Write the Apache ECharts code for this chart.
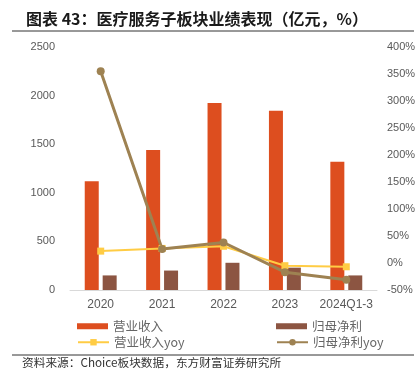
<!DOCTYPE html>
<html><head><meta charset="utf-8">
<script src="https://cdn.jsdelivr.net/npm/echarts@6/dist/echarts.min.js"></script>
<style>html,body{margin:0;padding:0;background:#fff}#c{width:420px;height:391px}</style>
</head><body><div id="c"></div>
<script>
var categories = ['2020', '2021', '2022', '2023', '2024Q1-3'];
var revenue = [1120, 1440, 1925, 1845, 1320];
var netProfit = [150, 200, 280, 230, 150];
var revenueYoy = [22, 27, 31, -5, -7];
var profitYoy = [355, 26, 38, -17, -31];
var leftTicks = [0, 2500, 500];
var rightTicks = [-50, 400, 50];

var chart = echarts.init(document.getElementById('c'));
var lbl = {color: '#595959', fontSize: 11, fontFamily: 'Liberation Sans, Arial, sans-serif'};
function lg(name, left, top, h, icon) {
  var o = {left: left, top: top, itemWidth: 31, itemHeight: h, itemGap: 0,
    textStyle: {color: '#666', fontSize: 12.5, fontFamily: 'Noto Sans CJK SC'},
    data: [name]};
  if (icon) o.icon = icon;
  return o;
}
chart.setOption({
  animation: false,
  title: {
    text: '图表 43：医疗服务子板块业绩表现（亿元，%）',
    left: 21, top: 6,
    textStyle: {fontSize: 16, fontWeight: 'bold', color: '#1a1a1a', fontFamily: 'Noto Sans CJK SC'}
  },
  graphic: [
    {type: 'line', shape: {x1: 12, y1: 31, x2: 414, y2: 31}, style: {stroke: '#333', lineWidth: 1}},
    {type: 'line', shape: {x1: 12, y1: 355, x2: 414, y2: 355}, style: {stroke: '#333', lineWidth: 1}},
    {type: 'text', left: 22, top: 357, style: {text: '资料来源：Choice板块数据，东方财富证券研究所', fontSize: 11.7, fill: '#333', fontFamily: 'Noto Sans CJK SC'}}
  ],
  grid: {left: 70, right: 43, top: 47, bottom: 101},
  legend: [
    lg('营业收入', 72, 315, 6, 'rect'),
    lg('归母净利', 271, 315, 6, 'rect'),
    lg('营业收入yoy', 72, 331, 8),
    lg('归母净利yoy', 271, 331, 8)
  ],
  xAxis: {
    type: 'category', data: categories,
    axisLine: {lineStyle: {color: '#d9d9d9'}},
    axisTick: {show: false},
    axisLabel: Object.assign({}, lbl, {margin: 9, fontSize: 12, interval: 0})
  },
  yAxis: [
    {type: 'value', min: leftTicks[0], max: leftTicks[1], interval: leftTicks[2],
     splitLine: {show: false}, axisLine: {show: false}, axisTick: {show: false},
     axisLabel: Object.assign({}, lbl, {margin: 15, formatter: function (v) { return String(v); }})},
    {type: 'value', min: rightTicks[0], max: rightTicks[1], interval: rightTicks[2],
     splitLine: {show: false}, axisLine: {show: false}, axisTick: {show: false},
     axisLabel: Object.assign({}, lbl, {margin: 10, formatter: '{value}%'})}
  ],
  series: [
    {name: '营业收入', type: 'bar', data: revenue, barWidth: 14, barGap: '28%',
     itemStyle: {color: '#DD4E1F'}},
    {name: '归母净利', type: 'bar', data: netProfit, barWidth: 14,
     itemStyle: {color: '#8C5542'}},
    {name: '营业收入yoy', type: 'line', yAxisIndex: 1, data: revenueYoy,
     symbol: 'rect', symbolSize: 7, lineStyle: {width: 2, color: '#FFCC44'},
     itemStyle: {color: '#FFCC44'}},
    {name: '归母净利yoy', type: 'line', yAxisIndex: 1, data: profitYoy,
     symbol: 'circle', symbolSize: 8, lineStyle: {width: 3, color: '#9E8252'},
     itemStyle: {color: '#9E8252'}}
  ]
});
</script></body></html>
